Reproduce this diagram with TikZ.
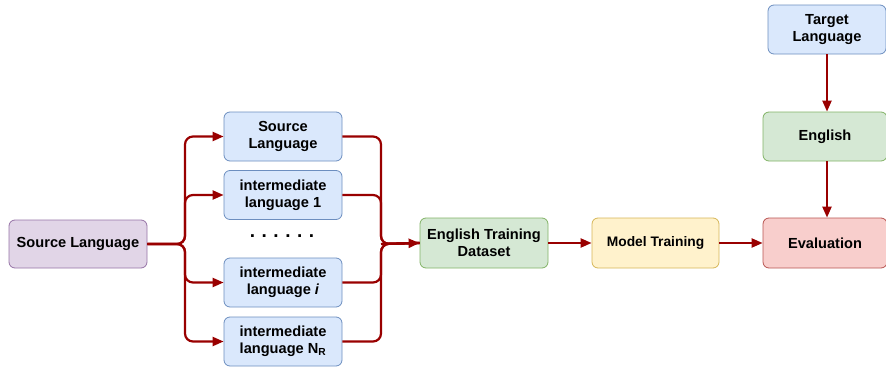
\documentclass[tikz,border=0pt]{standalone}
\usepackage{fontspec}
\setmainfont{Liberation Sans}
\usetikzlibrary{arrows.meta}

\definecolor{flowred}{HTML}{990000}
\definecolor{purpfill}{HTML}{E1D5E7}
\definecolor{purpline}{HTML}{9673A6}
\definecolor{bluefill}{HTML}{DAE8FC}
\definecolor{blueline}{HTML}{6C8EBF}
\definecolor{greenfill}{HTML}{D5E8D4}
\definecolor{greenline}{HTML}{82B366}
\definecolor{yelfill}{HTML}{FFF2CC}
\definecolor{yelline}{HTML}{D6B656}
\definecolor{redfill}{HTML}{F8CECC}
\definecolor{redline}{HTML}{B85450}

\begin{document}
\begin{tikzpicture}[x=1pt,y=-1pt,
  font=\fontsize{14.6}{17}\selectfont\bfseries,
  box/.style={draw, rounded corners=6pt, line width=0.8pt, align=center, inner sep=0pt},
  purplebox/.style={box, fill=purpfill, draw=purpline},
  bluebox/.style={box, fill=bluefill, draw=blueline, minimum width=118pt, minimum height=49pt},
  greenbox/.style={box, fill=greenfill, draw=greenline},
  yellowbox/.style={box, fill=yelfill, draw=yelline},
  redbox/.style={box, fill=redfill, draw=redline},
  flow/.style={draw=flowred, line width=2.2pt, rounded corners=8pt,
    -{Triangle[length=11pt,width=9pt]}},
  link/.style={draw=flowred, line width=2.2pt, rounded corners=8pt}]

\useasboundingbox (0,0) rectangle (886,367);

% input
\node[purplebox, minimum width=138pt, minimum height=48pt] (src) at (78,244) {Source Language};

% parallel branches
\node[bluebox] (b0) at (283,136.5) {Source\\Language};
\node[bluebox] (b1) at (283,195) {intermediate\\language 1};
\node[font=\fontsize{19}{19}\selectfont\bfseries] (dots) at (282,236)
  {.\hspace{6.5pt}.\hspace{6.5pt}.\hspace{6.5pt}.\hspace{6.5pt}.\hspace{6.5pt}.};
\node[bluebox] (bi) at (283,282.5) {intermediate\\language \textit{i}};
\node[bluebox] (bn) at (283,341.5) {intermediate\\language N\textsubscript{R}};

% pipeline
\node[greenbox, minimum width=128pt, minimum height=50pt] (etd) at (484,243) {English Training\\Dataset};
\node[yellowbox, minimum width=127pt, minimum height=50pt, font=\fontsize{13.8}{16}\selectfont\bfseries] (mt) at (655.5,243) {Model Training};
\node[redbox, minimum width=124pt, minimum height=50pt] (ev) at (825,243) {Evaluation};
\node[bluebox] (tgt) at (827,29.5) {Target\\Language};
\node[greenbox, minimum width=124pt, minimum height=49pt] (en) at (825,136.5) {English};

% split and merge points
\coordinate (split) at (185,244);
\coordinate (merge) at (381,244);

\foreach \b in {b0,b1,bi,bn}{
  \draw[flow] (src.east) -- (split) |- (\b.west);
  \draw[link] (\b.east) -| (merge) -- (etd.west);
}
\draw[flow] (merge) -- (etd.west);

\draw[flow] (etd.east) -- (mt.west);
\draw[flow] (mt.east) -- (ev.west);
\draw[flow] (tgt.south) -- (tgt.south |- en.north);
\draw[flow] (en.south -| tgt.south) -- (tgt.south |- ev.north);

\end{tikzpicture}
\end{document}
